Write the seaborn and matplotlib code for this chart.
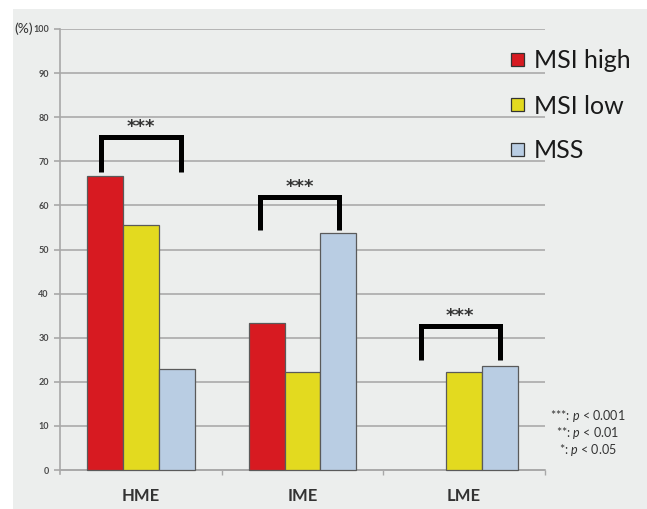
import matplotlib
matplotlib.use("Agg")
import matplotlib.pyplot as plt
from matplotlib.patches import Patch, Rectangle
import seaborn as sns
import pandas as pd

# Data: percentage of each MSI status per group
groups = ["HME", "IME", "LME"]
statuses = ["MSI high", "MSI low", "MSS"]
msi_high = [66.7, 33.3, 0.0]
msi_low = [55.6, 22.2, 22.2]
mss = [23.0, 53.8, 23.6]
yticks = [0, 10, 20, 30, 40, 50, 60, 70, 80, 90, 100]

# Significance brackets: (group index, left offset, right offset, leg bottom, top)
brackets = [
    (0, -0.247, 0.247, 67.6, 75.5),
    (1, -0.265, 0.228, 54.4, 61.9),
    (2, -0.270, 0.220, 24.9, 32.7),
]
sig_label = "***"
pvalue_notes = [r"***: $\mathit{p}$ < 0.001", r"**: $\mathit{p}$ < 0.01", r"*: $\mathit{p}$ < 0.05"]

colors = {"MSI high": "#D71A21", "MSI low": "#E3DA1F", "MSS": "#B9CDE3"}
panel = "#ECEEED"

df = pd.DataFrame({
    "group": groups * 3,
    "status": [s for s in statuses for _ in groups],
    "value": msi_high + msi_low + mss,
})

sns.set_theme(style="white")
plt.rcParams["font.family"] = ["Lato", "DejaVu Sans"]
plt.rcParams["mathtext.fontset"] = "custom"
plt.rcParams["mathtext.rm"] = "Lato"
plt.rcParams["mathtext.it"] = "Lato:italic"

fig = plt.figure(figsize=(6.47, 5.09), dpi=100)
fig.patch.set_facecolor("white")
fig.patches.append(Rectangle((13 / 647, 0), 1 - 13 / 647, 1 - 9 / 509,
                             transform=fig.transFigure, facecolor=panel,
                             edgecolor="none", zorder=-10))

ax = fig.add_axes([60 / 647, 1 - 474 / 509, (545 - 60) / 647, (474 - 29) / 509])
ax.set_facecolor(panel)

sns.barplot(data=df, x="group", y="value", hue="status", order=groups,
            hue_order=statuses, palette=colors, saturation=1, width=0.667,
            gap=0, edgecolor="#5A5A5A", linewidth=0.9, ax=ax, legend=False,
            zorder=3)

# Empty categories leave no visible mark
for bar in ax.patches:
    if bar.get_height() == 0:
        bar.set_visible(False)

ax.set_xlim(-0.5, 2.5)
ax.set_ylim(-0.9, 100)
ax.set_yticks(yticks)
ax.set_yticklabels([str(t) for t in yticks], fontsize=6.5, color="#4A4A4A",
                   fontweight="bold")
ax.yaxis.grid(True, color="#B4B4B4", linewidth=1.4, zorder=0)
ax.set_axisbelow(True)
ax.set_xlabel("")
ax.set_ylabel("")

for s in ["top", "right"]:
    ax.spines[s].set_visible(False)
ax.spines["left"].set_color("#A8A8A8")
ax.spines["left"].set_linewidth(1.2)
ax.spines["bottom"].set_color("#A8A8A8")
ax.spines["bottom"].set_linewidth(1.2)
ax.spines["bottom"].set_position(("data", 0))

ax.tick_params(axis="y", left=True, length=4, width=1.2, color="#A8A8A8", pad=4)
ax.set_xticks(range(len(groups)))
ax.set_xticklabels(groups, fontsize=12, color="#333333", fontweight="bold")
ax.tick_params(axis="x", bottom=False, pad=7)
ax.set_xticks([0.5, 1.5, 2.5], minor=True)
ax.tick_params(axis="x", which="minor", bottom=True, length=3.5, width=1.0,
               color="#A8A8A8", direction="out")

# Significance brackets with stars
for gi, lo, hi, base, top in brackets:
    x0, x1 = gi + lo, gi + hi
    ax.plot([x0, x0, x1, x1], [base, top, top, base], color="black",
            linewidth=3.6, solid_joinstyle="miter", solid_capstyle="butt",
            zorder=5, clip_on=False)
    ax.text((x0 + x1) / 2, top + 0.2, sig_label, ha="center", va="bottom",
            fontsize=13, fontweight="bold", color="#333333",
            family="DejaVu Sans")

# Unit label at the top of the value axis
fig.text(14 / 647, 1 - 29 / 509, "(%)", fontsize=10, color="#333333",
         ha="left", va="center")

# Legend
handles = [Patch(facecolor=colors[s], edgecolor="#333333", linewidth=0.9)
           for s in statuses]
fig.legend(handles, statuses, loc="upper left",
           bbox_to_anchor=(498 / 647, 1 - 37 / 509), frameon=False,
           fontsize=18, handlelength=0.52, handleheight=0.4,
           handletextpad=0.4, labelspacing=0.88, borderpad=0,
           labelcolor="#1A1A1A")

# p-value key
for i, note in enumerate(pvalue_notes):
    fig.text(588 / 647, 1 - (416 + 17 * i) / 509, note, fontsize=9,
             color="#333333", ha="center", va="center")

fig.savefig("out.png", dpi=100, facecolor=fig.get_facecolor())
